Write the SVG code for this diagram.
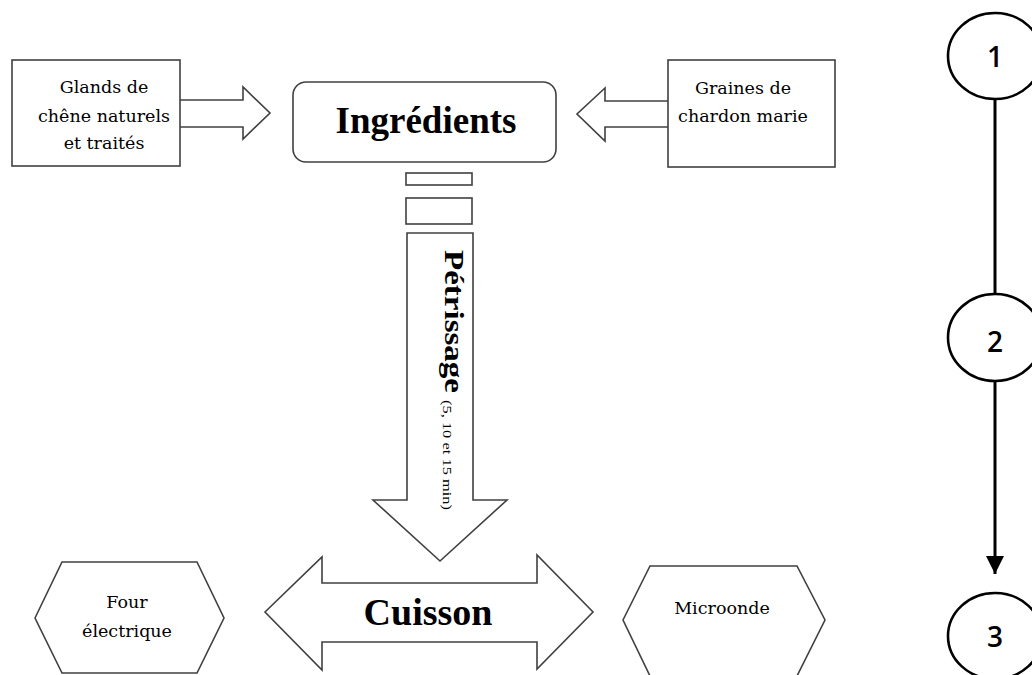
<svg xmlns="http://www.w3.org/2000/svg" width="1032" height="675" viewBox="0 0 1032 675">
<defs>
<style>
.sh{fill:#fff;stroke:#404040;stroke-width:1.6;stroke-linejoin:miter}
.lbl{font-family:"DejaVu Serif","Liberation Serif",serif;font-size:17.5px;fill:#000;text-anchor:middle}
.big{font-family:"Liberation Serif","Times New Roman",serif;font-weight:bold;fill:#000;text-anchor:middle}
.vert{font-family:"Liberation Serif","Times New Roman",serif;fill:#000;text-anchor:start}
.num{font-family:"Open Sans","Noto Sans",sans-serif;font-weight:600;font-size:28px;fill:#000;text-anchor:middle}
.circ{fill:#fff;stroke:#000;stroke-width:2.6}
.ln{stroke:#000;stroke-width:3;fill:none}
</style>
<marker id="ah" viewBox="0 0 10 10" refX="10" refY="5" markerWidth="6" markerHeight="6.4" markerUnits="strokeWidth" orient="auto">
<path d="M0,0 L10,5 L0,10 Z" fill="#000"/>
</marker>
</defs>
<rect width="1032" height="675" fill="#fff"/>

<g id="connectors">
<path class="sh" d="M180,100 L243,100 L243,87 L270,113 L243,139 L243,127 L180,127"/>
<path class="sh" d="M668,101 L605,101 L605,88 L577,114 L605,141 L605,127 L668,127"/>
<path class="sh" d="M407,233 L473,233 L473,500 L507,500 L440,561 L373,500 L407,500 Z"/>
<path class="sh" d="M265,612 L322,557 L322,583 L537,583 L537,555 L593,612 L537,669 L537,642 L322,642 L322,670 Z"/>
<line class="ln" x1="995" y1="99" x2="995" y2="294"/>
<line class="ln" x1="995" y1="381" x2="995" y2="574" marker-end="url(#ah)"/>
</g>

<g id="glands">
<rect class="sh" x="12" y="60" width="168" height="106"/>
<text class="lbl" x="104" y="93">Glands de</text>
<text class="lbl" x="104" y="122">chêne naturels</text>
<text class="lbl" x="104" y="149">et traités</text>
</g>

<g id="graines">
<rect class="sh" x="668" y="60" width="167" height="107"/>
<text class="lbl" x="743" y="94">Graines de</text>
<text class="lbl" x="743" y="122">chardon marie</text>
</g>

<g id="ingredients">
<rect class="sh" x="293" y="82" width="263" height="80" rx="13"/>
<text class="big" x="426" y="133" font-size="37">Ingrédients</text>
</g>

<g id="bars">
<rect class="sh" x="406" y="173" width="66" height="12"/>
<rect class="sh" x="406" y="198" width="66" height="26"/>
</g>

<g id="petrissage">
<text class="vert" transform="translate(445,250) rotate(90)" x="0" y="0" font-size="28" font-weight="bold" textLength="143" lengthAdjust="spacingAndGlyphs">Pétrissage</text>
<text class="vert" transform="translate(443,400) rotate(90)" x="0" y="0" font-size="13" textLength="110" lengthAdjust="spacingAndGlyphs">(5, 10 et 15 min)</text>
</g>

<g id="cuisson">
<text class="big" x="428" y="625" font-size="38">Cuisson</text>
</g>

<g id="four">
<path class="sh" d="M35,618 L62,562 L197,562 L224,618 L197,673 L62,673 Z"/>
<text class="lbl" x="127" y="608">Four</text>
<text class="lbl" x="127" y="637">électrique</text>
</g>

<g id="microonde">
<path class="sh" d="M623,620 L650,566 L797,566 L825,620 L797,676 L650,676 Z"/>
<text class="lbl" x="722" y="614">Microonde</text>
</g>

<g id="n1">
<ellipse class="circ" cx="995" cy="56" rx="47" ry="43"/>
<text class="num" x="995" y="67">1</text>
</g>
<g id="n2">
<ellipse class="circ" cx="995" cy="337.5" rx="47" ry="43.5"/>
<text class="num" x="995" y="352">2</text>
</g>
<g id="n3">
<ellipse class="circ" cx="995" cy="636" rx="47" ry="43"/>
<text class="num" x="995" y="647">3</text>
</g>
</svg>
